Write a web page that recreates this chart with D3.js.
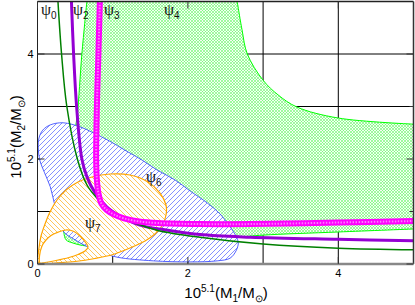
<!DOCTYPE html>
<html>
<head>
<meta charset="utf-8">
<script src="https://cdn.jsdelivr.net/npm/d3@7"></script>
<style>
  body { margin: 0; background: #fff; }
  text { font-family: "Liberation Sans", Arial, sans-serif; }
  .psi { font-family: "Liberation Serif", "DejaVu Serif", serif; }
</style>
</head>
<body>
<svg id="chart" width="415" height="305"></svg>
<script>
// ---- data (x = 10^5.1 M1/Msun, y = 10^5.1 M2/Msun) ----
const psi0Line = [[0.27,5.05],[0.32,4.0],[0.39,3.0],[0.53,2.0],[0.66,1.5],[0.80,1.24],[0.98,1.0],
  [1.3,0.78],[1.6,0.64],[2.16,0.51],[3.0,0.38],[4.0,0.30],[5.05,0.27]];
const psi2Line = [[0.45,5.05],[0.48,4.0],[0.52,3.0],[0.59,2.0],[0.66,1.65],[0.76,1.37],[0.92,1.09],
  [1.09,0.92],[1.36,0.74],[1.65,0.66],[2.16,0.56],[2.83,0.51],[4.0,0.47],[5.05,0.44]];
const psi3Band = [[0.83,5.05],[0.81,4.0],[0.79,3.0],[0.78,2.0],[0.79,1.6],[0.81,1.35],[0.85,1.15],
  [0.92,1.03],[1.02,0.94],[1.15,0.87],[1.35,0.81],[1.6,0.78],[2.16,0.76],[2.83,0.76],[4.0,0.79],[5.05,0.82]];
// psi4 allowed region: outer edge, then inner edge
const psi4Outer = [[2.65,5.05],[2.72,4.46],[2.79,4.0],[3.0,3.5],[3.2,3.22],[3.45,2.99],[4.0,2.78],[5.05,2.66]];
const psi4Inner = [[5.05,0.67],[4.0,0.61],[3.0,0.55],[2.68,0.51],[2.55,0.48],[2.0,0.45],[1.2,0.40],
  [0.8,0.36],[0.645,0.345],[0.47,0.40],[0.38,0.46],[0.35,0.61],[0.36,0.9],[0.42,1.6],[0.50,2.55],
  [0.53,2.85],[0.59,4.0],[0.66,5.05]];
// psi6 region
const psi6Edge = [[0.34,2.69],[0.57,2.61],[0.74,2.50],[0.96,2.34],[1.16,2.17],[1.39,1.98],[1.59,1.79],
  [1.83,1.60],[2.03,1.39],[2.26,1.16],[2.43,0.95],[2.56,0.71],[2.64,0.53],[2.67,0.40],[2.64,0.25],
  [2.56,0.11],[2.39,0.06],[2.03,0.04],[1.54,0.06],[1.06,0.13],[0.83,0.23],[0.645,0.343],[0.50,0.46],
  [0.35,0.61],[0.29,0.84],[0.23,1.12],[0.17,1.47],[0.09,1.75],[0.03,1.98],[0.01,2.21],[0.02,2.40],
  [0.07,2.55],[0.17,2.65]];
// psi7 region: outer loop and inner hole
const psi7Outer = [[0.007,0.038],[0.02,0.305],[0.047,0.533],[0.10,0.762],[0.166,0.99],[0.259,1.219],
  [0.379,1.41],[0.539,1.562],[0.725,1.657],[0.964,1.714],[1.23,1.695],[1.469,1.562],[1.629,1.352],
  [1.709,1.124],[1.709,0.933],[1.656,0.724],[1.562,0.571],[1.43,0.438],[1.23,0.305],[1.004,0.181],
  [0.765,0.105],[0.499,0.048],[0.233,0.019],[0.06,0.0]];
const psi7Hole = [[0.027,0.152],[0.06,0.343],[0.113,0.457],[0.18,0.543],[0.246,0.59],[0.379,0.648],
  [0.485,0.619],[0.565,0.533],[0.645,0.40],[0.672,0.324],[0.632,0.248],[0.539,0.181],[0.419,0.124],
  [0.246,0.067],[0.10,0.029],[0.033,0.019]];

const gridVals = [1, 2, 3, 4];
const tickVals = [0, 2, 4];
const curveNames = ["0", "2", "3", "4", "6", "7"];

// ---- layout ----
const svg = d3.select("#chart");
const x = d3.scaleLinear().domain([0, 5]).range([37.5, 413.5]);
const y = d3.scaleLinear().domain([0, 5]).range([264, 1.5]);

const defs = svg.append("defs");
defs.append("clipPath").attr("id", "plotArea")
  .append("rect")
  .attr("x", x(0)).attr("y", y(5))
  .attr("width", x(5) - x(0)).attr("height", y(0) - y(5));

function hatch(id, size, bg, color, d, width) {
  const p = defs.append("pattern").attr("id", id)
    .attr("patternUnits", "userSpaceOnUse")
    .attr("width", size).attr("height", size);
  p.append("rect").attr("width", size).attr("height", size).attr("fill", bg);
  p.append("path").attr("d", d).attr("stroke", color).attr("stroke-width", width).attr("fill", "none");
}
hatch("pBlue", 5, "#fff", "#3344ff", "M-1,1L1,-1M0,5L5,0M4,6L6,4", 0.6);
hatch("pOrange", 5, "#fff", "#ffa500", "M-1,4L1,6M0,0L5,5M4,-1L6,1", 0.65);
// fine green cross-hatch
hatch("pGreen", 3, "#f2fff2", "#5cf55c", "M0,0L3,3M3,0L0,3M-1,1L1,-1M2,4L4,2M-1,2L1,4M2,-1L4,1", 0.55);

const lineOf = (pts, curve) => d3.line()
  .x(d => x(d[0])).y(d => y(d[1]))
  .curve(curve || d3.curveCatmullRom.alpha(0.5))(pts);

const plot = svg.append("g").attr("clip-path", "url(#plotArea)");

// grid
plot.append("g").selectAll("line").data(gridVals).join("line")
  .attr("x1", d => x(d)).attr("x2", d => x(d))
  .attr("y1", y(0)).attr("y2", y(5))
  .attr("stroke", "#000").attr("stroke-width", 1);
plot.append("g").selectAll("line").data(gridVals).join("line")
  .attr("x1", x(0)).attr("x2", x(5))
  .attr("y1", d => y(d)).attr("y2", d => y(d))
  .attr("stroke", "#000").attr("stroke-width", 1);

// psi4 region
plot.append("path")
  .attr("d", lineOf(psi4Outer) + lineOf(psi4Inner).replace(/^M/, "L") + "Z")
  .attr("fill", "url(#pGreen)")
  .attr("stroke", "#00ff00").attr("stroke-width", 1);

// psi6 region
plot.append("path")
  .attr("d", lineOf(psi6Edge, d3.curveCatmullRomClosed.alpha(0.5)))
  .attr("fill", "url(#pBlue)")
  .attr("stroke", "#2a3cff").attr("stroke-width", 0.8);

// psi7 region
plot.append("path")
  .attr("d", lineOf(psi7Outer, d3.curveCatmullRomClosed.alpha(0.5)) +
             lineOf(psi7Hole, d3.curveCatmullRomClosed.alpha(0.5)))
  .attr("fill", "url(#pOrange)").attr("fill-rule", "evenodd")
  .attr("stroke", "#ffa500").attr("stroke-width", 1.2);

// lines
plot.append("path").attr("d", lineOf(psi2Line))
  .attr("fill", "none").attr("stroke", "#9400d3").attr("stroke-width", 3);
plot.append("path").attr("d", lineOf(psi0Line))
  .attr("fill", "none").attr("stroke", "#008000").attr("stroke-width", 1.5);
plot.append("path").attr("d", lineOf(psi3Band))
  .attr("fill", "none").attr("stroke", "#ff00ff").attr("stroke-width", 6);
plot.append("path").attr("d", lineOf(psi3Band))
  .attr("fill", "none").attr("stroke", "#ff7cff").attr("stroke-width", 2)
  .attr("stroke-dasharray", "1.5,1.5");

// frame
svg.append("line").attr("x1", x(0)).attr("x2", x(5)).attr("y1", y(5)).attr("y2", y(5))
  .attr("stroke", "#222").attr("stroke-width", 1.5);
svg.append("line").attr("x1", x(5)).attr("x2", x(5)).attr("y1", y(5)).attr("y2", y(0))
  .attr("stroke", "#333").attr("stroke-width", 1.5);
svg.append("line").attr("x1", x(0)).attr("x2", x(0)).attr("y1", y(5)).attr("y2", y(0))
  .attr("stroke", "#222").attr("stroke-width", 1);
svg.append("line").attr("x1", x(0)).attr("x2", x(5)).attr("y1", y(0)).attr("y2", y(0))
  .attr("stroke", "#888").attr("stroke-width", 2.5);

// inward ticks (all four sides)
const ticks = svg.append("g").attr("stroke", "#333").attr("stroke-width", 1);
tickVals.forEach(v => {
  ticks.append("line").attr("x1", x(v)).attr("x2", x(v)).attr("y1", y(0)).attr("y2", y(0) - 7);
  ticks.append("line").attr("x1", x(v)).attr("x2", x(v)).attr("y1", y(5)).attr("y2", y(5) + 7);
  ticks.append("line").attr("x1", x(0)).attr("x2", x(0) + 7).attr("y1", y(v)).attr("y2", y(v));
  ticks.append("line").attr("x1", x(5)).attr("x2", x(5) - 7).attr("y1", y(v)).attr("y2", y(v));
});
gridVals.filter(v => v % 2).forEach(v => {
  ticks.append("line").attr("x1", x(5)).attr("x2", x(5) - 4).attr("y1", y(v)).attr("y2", y(v));
});

// tick labels
svg.append("g").selectAll("text").data(tickVals).join("text")
  .attr("x", d => x(d)).attr("y", y(0) + 13)
  .attr("text-anchor", "middle").attr("font-size", 11)
  .text(d => d);
svg.append("g").selectAll("text").data(tickVals).join("text")
  .attr("x", x(0) - 4).attr("y", d => y(d) + 4)
  .attr("text-anchor", "end").attr("font-size", 11)
  .text(d => d);

// axis titles
function axisTitle(sel, sub) {
  sel.append("tspan").text("10");
  sel.append("tspan").attr("font-size", 10).attr("dy", -6).text("5.1");
  sel.append("tspan").attr("dy", 6).text("(M");
  sel.append("tspan").attr("font-size", 10).attr("dy", 4).text(sub);
  sel.append("tspan").attr("dy", -4).text("/M");
  sel.append("tspan").attr("font-size", 10).attr("dy", 4).text("\u2299");
  sel.append("tspan").attr("dy", -4).text(")");
}
svg.append("text").attr("x", 226).attr("y", 298)
  .attr("text-anchor", "middle").attr("font-size", 15)
  .call(axisTitle, "1");
svg.append("text").attr("transform", "translate(21,137) rotate(-90)")
  .attr("text-anchor", "middle").attr("font-size", 15)
  .call(axisTitle, "2");

// curve labels
const labelPos = { "0": [41, 15], "2": [73, 15], "3": [104, 15], "4": [164, 15], "6": [146, 182], "7": [85, 228] };
curveNames.forEach(n => {
  const t = svg.append("text").attr("class", "psi")
    .attr("x", labelPos[n][0]).attr("y", labelPos[n][1])
    .attr("font-size", 16).attr("fill", "#111");
  t.append("tspan").text("\u03c8");
  t.append("tspan").attr("font-family", "Liberation Sans, Arial, sans-serif")
    .attr("font-size", 10).attr("dy", 4).text(n);
});
</script>
</body>
</html>
